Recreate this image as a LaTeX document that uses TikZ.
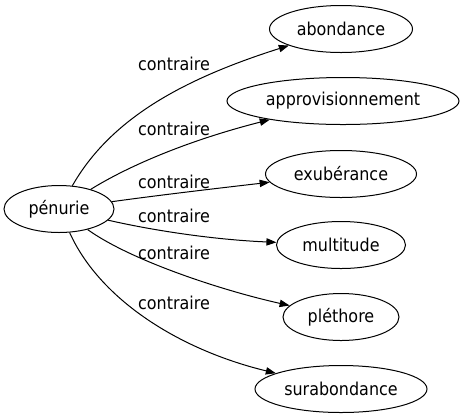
\documentclass[tikz,border=0pt]{standalone}
\usepackage{fontspec}
\setmainfont{DejaVu Sans}[FakeStretch=0.9]
\usetikzlibrary{shapes.geometric}
\usetikzlibrary{arrows.meta}

\begin{document}
\begin{tikzpicture}[
  x=0.75pt, y=-0.75pt, line width=0.75pt,
  word/.style={draw, ellipse, inner sep=0pt, minimum height=35.25pt, font=\fontsize{13.3}{16}\selectfont},
  rel/.style={font=\fontsize{13.3}{16}\selectfont},
  link/.style={-{Triangle[length=7.5pt, width=5.5pt]}}
]
\useasboundingbox (0, 0) rectangle (460, 419);

% Source
\node[word, minimum width=82.5pt] (penurie) at (59, 209) {pénurie};

% Targets
\node[word, minimum width=107.25pt] (abondance) at (341, 29) {abondance};
\node[word, minimum width=174pt] (approvisionnement) at (343, 101) {approvisionnement};
\node[word, minimum width=113.25pt] (exuberance) at (341, 174) {exubérance};
\node[word, minimum width=96.75pt] (multitude) at (341, 245) {multitude};
\node[word, minimum width=87pt] (plethore) at (341, 317) {pléthore};
\node[word, minimum width=129pt] (surabondance) at (341, 389) {surabondance};

% Edges
\draw[link] (penurie) .. controls (110, 120) and (180, 80) .. (abondance) node[rel, at={(174, 64)}] {contraire};
\draw[link] (penurie) .. controls (130, 165) and (190, 140) .. (approvisionnement) node[rel, at={(174, 129)}] {contraire};
\draw[link] (penurie) .. controls (160, 195) and (220, 188) .. (exuberance) node[rel, at={(174, 182)}] {contraire};
\draw[link] (penurie) .. controls (160, 232) and (220, 240) .. (multitude) node[rel, at={(174, 216)}] {contraire};
\draw[link] (penurie) .. controls (130, 260) and (220, 290) .. (plethore) node[rel, at={(174, 253)}] {contraire};
\draw[link] (penurie) .. controls (100, 300) and (180, 350) .. (surabondance) node[rel, at={(174, 303)}] {contraire};
\end{tikzpicture}
\end{document}
